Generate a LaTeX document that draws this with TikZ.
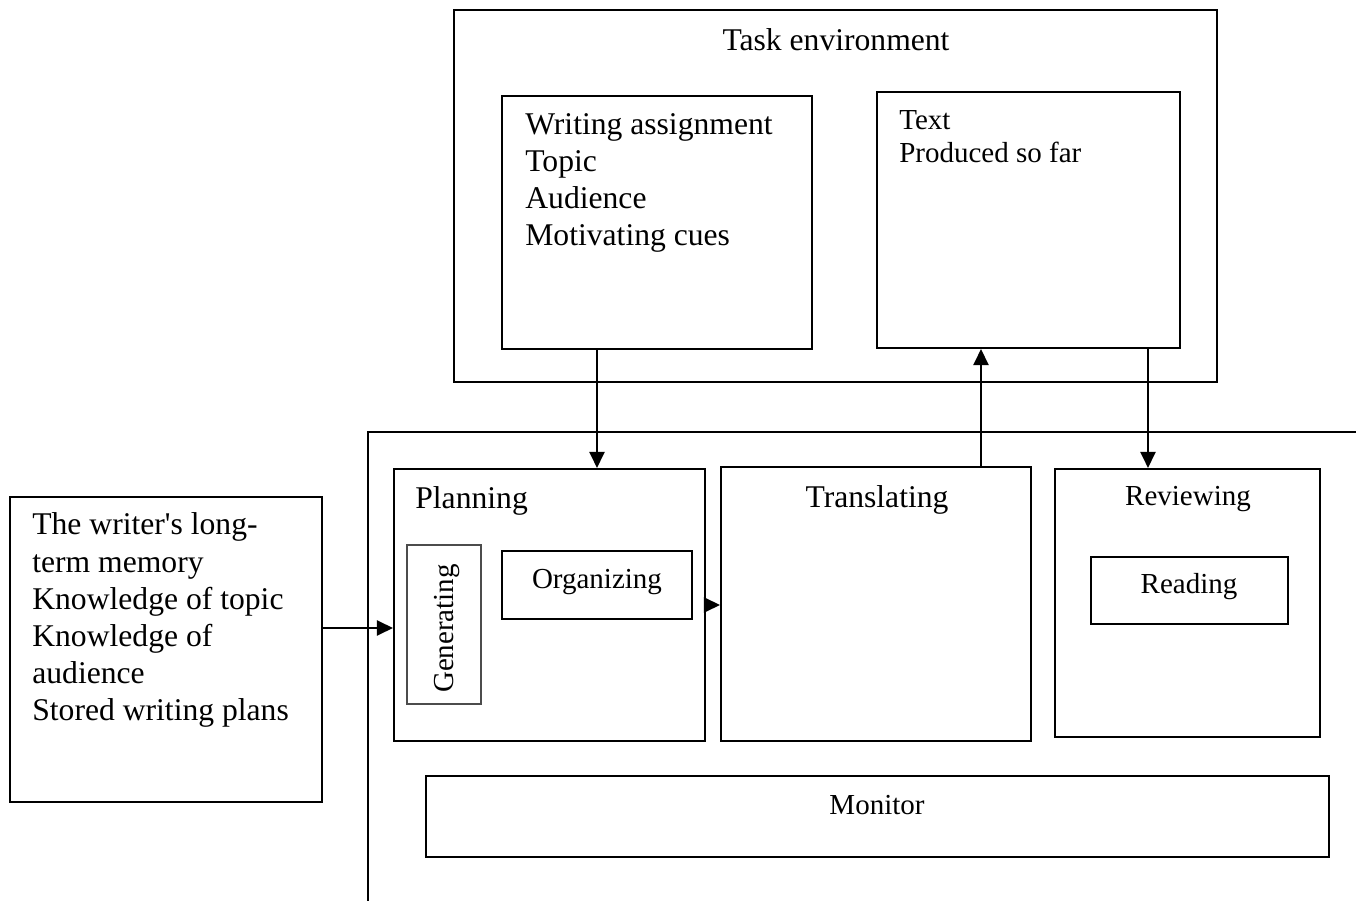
\documentclass[tikz,border=0pt]{standalone}
\usepackage{fontspec}
\setmainfont{Liberation Serif}
\usetikzlibrary{arrows.meta}
\usetikzlibrary{positioning}
\tikzset{>={Triangle[length=0.32cm,width=0.3cm]}}
\tikzset{
	box/.style={draw, line width=1.2pt, inner sep=0pt},
	thinbox/.style={draw=black!70, line width=0.7pt, inner sep=0pt},
	flow/.style={->, line width=1.2pt},
	big/.style={font=\fontsize{18}{21.2}\selectfont, inner sep=0pt, align=left},
	small/.style={font=\fontsize{16.5}{19.3}\selectfont, inner sep=0pt, align=left}
}

\begin{document}
\begin{tikzpicture}[x=0.02cm, y=-0.02cm]
		\useasboundingbox (0,0) rectangle (1356,901);

		% task environment
		\node[box, minimum width=15.26cm, minimum height=7.44cm] (task) at (835.5,196) {};
		\node[big, anchor=base] (task_label) at (836,51) {Task environment};
		\node[box, minimum width=6.2cm, minimum height=5.06cm] (assign) at (657,222.5) {};
		% base of a multi-line node = last line
		\node[big, anchor=base west] (assign_label) at (525,246) {Writing assignment\\Topic\\Audience\\Motivating cues};
		\node[box, minimum width=6.06cm, minimum height=5.12cm] (text) at (1028.5,220) {};
		\node[small, anchor=base west] (text_label) at (899,163) {Text\\Produced so far};

		% writing process frame
		\draw[line width=1.2pt] (368,901) -- (368,432) -- (1356,432);

		\node[box, minimum width=6.22cm, minimum height=5.44cm] (planning) at (549.5,605) {};
		\node[big, anchor=base west] (planning_label) at (415,509) {Planning};
		\node[thinbox, minimum width=1.48cm, minimum height=3.18cm] (generating) at (444,624.5) {};
		\node[small, rotate=90] (generating_label) at (447,628.5) {Generating};
		\node[box, minimum width=3.8cm, minimum height=1.36cm] (organizing) at (597,585) {};
		\node[small, anchor=base] (organizing_label) at (597,589) {Organizing};

		\node[box, minimum width=6.2cm, minimum height=5.48cm] (translating) at (876,604) {};
		\node[big, anchor=base] (translating_label) at (877,508) {Translating};

		\node[box, minimum width=5.3cm, minimum height=5.36cm] (reviewing) at (1187.5,603) {};
		\node[small, anchor=base] (reviewing_label) at (1188,506) {Reviewing};
		\node[box, minimum width=3.94cm, minimum height=1.34cm] (reading) at (1189.5,590.5) {};
		\node[small, anchor=base] (reading_label) at (1189,594) {Reading};

		\node[box, minimum width=18.06cm, minimum height=1.62cm] (monitor) at (877.5,816.5) {};
		\node[small, anchor=base] (monitor_label) at (877,814) {Monitor};

		% long-term memory
		\node[box, minimum width=6.24cm, minimum height=6.1cm] (memory) at (166,649.5) {};
		\node[big, anchor=base west] (memory_label) at (32,721) {The writer\textquotesingle s long-\\term memory\\Knowledge of topic\\Knowledge of\\audience\\Stored writing plans};

		% arrows
		\coordinate (memory_y) at (0,628);
		\coordinate (up_x) at (981,0);
		\coordinate (down_x) at (1148,0);
		\draw[flow] (memory.east |- memory_y) -- (planning.west |- memory_y);
		\draw[flow] (assign.south -| organizing) -- (planning.north -| organizing);
		\draw[flow] (planning.east) -- (planning.east -| translating.west);
		\draw[flow] (translating.north -| up_x) -- (text.south -| up_x);
		\draw[flow] (text.south -| down_x) -- (reviewing.north -| down_x);

	\end{tikzpicture}
\end{document}
